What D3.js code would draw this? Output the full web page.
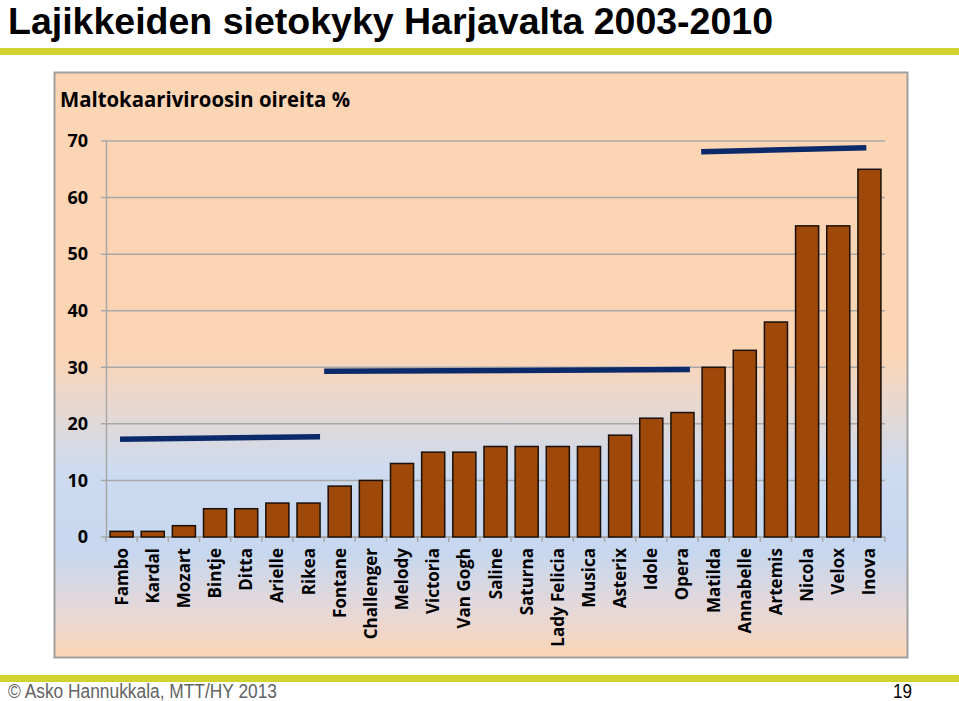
<!DOCTYPE html>
<html><head><meta charset="utf-8">
<script src="https://cdn.jsdelivr.net/npm/d3@7"></script>
<style>body{margin:0;background:#fff}svg{display:block}</style>
</head><body>
<script>
const categories = ["Fambo","Kardal","Mozart","Bintje","Ditta","Arielle","Rikea","Fontane","Challenger","Melody","Victoria","Van Gogh","Saline","Saturna","Lady Felicia","Musica","Asterix","Idole","Opera","Matilda","Annabelle","Artemis","Nicola","Velox","Inova"];
const values = [1,1,2,5,5,6,6,9,10,13,15,15,16,16,16,16,18,21,22,30,33,38,55,55,65];
const yTicks = [0,10,20,30,40,50,60,70];
// group lines: start/end position in category units, start/end value
const groupStart = [0.45, 7.0, 19.1];
const groupEnd = [6.87, 18.74, 24.4];
const groupFrom = [17.3, 29.3, 68.1];
const groupTo = [17.7, 29.6, 68.8];

const W = 959, H = 701;
const svg = d3.select("body").append("svg").attr("width", W).attr("height", H);
const defs = svg.append("defs");
const grad = defs.append("linearGradient").attr("id","bg").attr("x1",0).attr("y1",0).attr("x2",0).attr("y2",1);
[[0,"#fcd5b5"],[0.48,"#fcd5b5"],[0.68,"#cddbf0"],[0.82,"#c6d7ef"],[0.92,"#e6d8d8"],[1,"#fcd5b5"]].forEach(s=>grad.append("stop").attr("offset",s[0]).attr("stop-color",s[1]));

const narrow = "'Liberation Sans Narrow','Liberation Sans',Arial,sans-serif";
const lab = "'Open Sans',Lato,sans-serif";
// title
svg.append("text").attr("x",8).attr("y",34).text("Lajikkeiden sietokyky Harjavalta 2003-2010")
  .attr("font-family",narrow).attr("font-weight","bold")
  .attr("font-size",36).attr("fill","#000").attr("textLength",765).attr("lengthAdjust","spacingAndGlyphs");
svg.append("rect").attr("x",0).attr("y",48).attr("width",W).attr("height",7).attr("fill","#cfd22f");
svg.append("rect").attr("x",0).attr("y",675).attr("width",W).attr("height",7).attr("fill","#cfd22f");
svg.append("text").attr("x",8).attr("y",698).text("© Asko Hannukkala, MTT/HY 2013")
  .attr("font-family",narrow).attr("font-size",20).attr("fill","#636363")
  .attr("textLength",269).attr("lengthAdjust","spacingAndGlyphs");
svg.append("text").attr("x",912).attr("y",698).attr("text-anchor","end").text("19")
  .attr("font-family",narrow).attr("font-size",20).attr("fill","#000")
  .attr("textLength",19).attr("lengthAdjust","spacingAndGlyphs");

// frame
svg.append("rect").attr("x",54.5).attr("y",72.5).attr("width",853).attr("height",585)
  .attr("fill","url(#bg)").attr("stroke","#a0a0a0").attr("stroke-width",2);
svg.append("text").attr("x",60).attr("y",107).text("Maltokaariviroosin oireita  %")
  .attr("font-family",lab).attr("font-weight","bold").attr("font-size",21).attr("fill","#000")
  .attr("textLength",290).attr("lengthAdjust","spacingAndGlyphs");

const x0 = 106, x1 = 885, yTop = 141, yBot = 537;
const x = d3.scaleBand().domain(categories).range([x0,x1]).paddingInner(0.26).paddingOuter(0.13);
const xl = d3.scaleLinear().domain([0,categories.length]).range([x0,x1]);
const y = d3.scaleLinear().domain([0,70]).range([yBot,yTop]);

const g = svg.append("g");
// gridlines
g.selectAll(".grid").data(yTicks).join("line")
  .attr("x1",x0-5).attr("x2",x1).attr("y1",d=>y(d)).attr("y2",d=>y(d))
  .attr("stroke","#a8a8a8").attr("stroke-width",1.5);
// y axis
const ya = g.append("g").attr("transform",`translate(${x0},0)`).call(d3.axisLeft(y).tickValues(yTicks).tickSize(0).tickPadding(18));
ya.select(".domain").attr("stroke","#a8a8a8").attr("stroke-width",1.5);
ya.selectAll("text").attr("font-family",lab).attr("font-weight","bold").attr("font-size",18).attr("fill","#000");

// x axis
g.append("line").attr("x1",x0).attr("x2",x1).attr("y1",yBot).attr("y2",yBot).attr("stroke","#a8a8a8").attr("stroke-width",1.5);
g.selectAll(".xt").data(d3.range(categories.length+1)).join("line")
  .attr("x1",d=>xl(d)).attr("x2",d=>xl(d)).attr("y1",yBot).attr("y2",yBot+5).attr("stroke","#a8a8a8").attr("stroke-width",1.5);

// bars
g.selectAll(".bar").data(values).join("rect")
  .attr("x",(d,i)=>x(categories[i])).attr("width",x.bandwidth())
  .attr("y",d=>y(d)).attr("height",d=>yBot-y(d))
  .attr("fill","#9e4809").attr("stroke","#1a1008").attr("stroke-width",1.5);

// category labels
g.selectAll(".cl").data(categories).join("text")
  .attr("transform",d=>`translate(${x(d)+x.bandwidth()/2+6},${yBot+11}) rotate(-90)`)
  .attr("text-anchor","end").text(d=>d)
  .attr("font-family",lab).attr("font-weight","bold").attr("font-size",17).attr("fill","#000");

// group lines
g.selectAll(".gl").data(groupStart).join("line")
  .attr("x1",(d,i)=>xl(d)).attr("x2",(d,i)=>xl(groupEnd[i]))
  .attr("y1",(d,i)=>y(groupFrom[i])).attr("y2",(d,i)=>y(groupTo[i]))
  .attr("stroke","#0c2a6a").attr("stroke-width",5.5);
</script>
</body></html>
